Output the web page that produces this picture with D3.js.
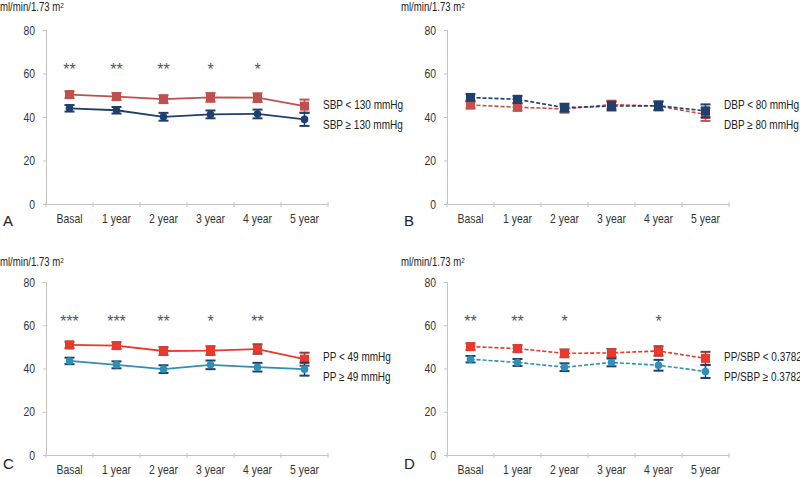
<!DOCTYPE html>
<html>
<head>
<meta charset="utf-8">
<script src="https://cdn.jsdelivr.net/npm/d3@7"></script>
<style>
  body { margin: 0; background: #fff; }
  svg { display: block; font-family: "Liberation Sans", Arial, sans-serif; }
</style>
</head>
<body>
<svg id="chart" width="800" height="477"></svg>
<script>
const categories = ["Basal", "1 year", "2 year", "3 year", "4 year", "5 year"];
const yTicks = [0, 20, 40, 60, 80];

// Panel A
const sbpLow = [50.3, 49.4, 48.2, 49.0, 48.9, 45.0];
const sbpLowErr = [1.5, 1.6, 1.8, 2.0, 2.0, 3.0];
const sbpHigh = [44.0, 43.1, 40.1, 41.2, 41.4, 38.9];
const sbpHighErr = [1.5, 1.5, 1.8, 1.8, 2.0, 3.0];
const sigA = ["**", "**", "**", "*", "*", ""];

// Panel B
const dbpLow = [49.0, 48.1, 44.3, 45.0, 45.2, 42.8];
const dbpLowErr = [1.5, 1.6, 1.8, 2.0, 2.0, 3.0];
const dbpHigh = [45.5, 44.5, 43.7, 45.7, 45.0, 41.2];
const dbpHighErr = [1.5, 1.6, 1.6, 1.8, 2.0, 3.0];

// Panel C
const ppLow = [50.9, 50.6, 48.1, 48.3, 49.0, 44.3];
const ppLowErr = [1.5, 1.6, 1.8, 2.0, 2.2, 3.0];
const ppHigh = [43.5, 41.7, 39.7, 41.7, 40.6, 39.7];
const ppHighErr = [1.5, 1.6, 1.8, 2.0, 2.0, 3.0];
const sigC = ["***", "***", "**", "*", "**", ""];

// Panel D
const ratioLow = [50.1, 49.2, 47.0, 47.2, 48.1, 44.7];
const ratioLowErr = [1.5, 1.6, 1.8, 1.8, 2.2, 3.0];
const ratioHigh = [44.3, 42.8, 40.6, 42.8, 41.5, 38.6];
const ratioHighErr = [1.5, 1.6, 1.8, 1.8, 2.5, 3.0];
const sigD = ["**", "**", "*", "", "*", ""];

const sigY = 62;

const panels = [
  { letter: "A", x0: 46, top: 30, bottom: 204, labelY: 11, letterY: 226, dashed: false,
    sig: sigA,
    series: [
      { name: "SBP < 130 mmHg", values: sbpLow, err: sbpLowErr, color: "#c0504d", cap: "#c0504d", shape: "square" },
      { name: "SBP \u2265 130 mmHg", values: sbpHigh, err: sbpHighErr, color: "#1f3f6e", cap: "#1f3f6e", shape: "circle" },
    ] },
  { letter: "B", x0: 447, top: 30, bottom: 204, labelY: 11, letterY: 226, dashed: true,
    sig: null,
    series: [
      { name: "DBP \u2265 80 mmHg", values: dbpHigh, err: dbpHighErr, color: "#c9504a", cap: "#c9504a", shape: "square", legendRow: 1 },
      { name: "DBP < 80 mmHg", values: dbpLow, err: dbpLowErr, color: "#1f3f6e", cap: "#1f3f6e", shape: "square", legendRow: 0 },
    ] },
  { letter: "C", x0: 46, top: 282, bottom: 455, labelY: 266, letterY: 469, dashed: false,
    sig: sigC,
    series: [
      { name: "PP < 49 mmHg", values: ppLow, err: ppLowErr, color: "#e8392c", cap: "#8a3a3a", shape: "square" },
      { name: "PP \u2265 49 mmHg", values: ppHigh, err: ppHighErr, color: "#2f8fb5", cap: "#1f3f6e", shape: "circle" },
    ] },
  { letter: "D", x0: 447, top: 282, bottom: 455, labelY: 266, letterY: 469, dashed: true,
    sig: sigD,
    series: [
      { name: "PP/SBP < 0.3782", values: ratioLow, err: ratioLowErr, color: "#e8392c", cap: "#8a3a3a", shape: "square" },
      { name: "PP/SBP \u2265 0.3782", values: ratioHigh, err: ratioHighErr, color: "#2f8fb5", cap: "#1f3f6e", shape: "circle" },
    ] },
];

const svg = d3.select("#chart");
const plotW = 282;
const narrow = 0.8; // the original uses a condensed face

panels.forEach((p) => {
  const g = svg.append("g");
  const x = d3.scaleBand().domain(categories).range([p.x0, p.x0 + plotW]);
  const y = d3.scaleLinear().domain([0, 80]).range([p.bottom, p.top]);

  // y axis
  const yAxis = g.append("g")
    .attr("transform", `translate(${p.x0},0)`)
    .call(d3.axisLeft(y).tickValues(yTicks).tickSize(3).tickPadding(8));
  yAxis.select(".domain").attr("stroke", "#c4c4c4");
  yAxis.selectAll(".tick line").attr("stroke", "#c4c4c4");
  yAxis.selectAll("text").attr("class", "squeeze").attr("font-size", "13px").attr("fill", "#333").attr("font-family", null);

  // x axis
  const xAxis = g.append("g")
    .attr("transform", `translate(0,${p.bottom})`)
    .call(d3.axisBottom(x).tickSize(0).tickPadding(10));
  xAxis.select(".domain").attr("stroke", "#c4c4c4");
  xAxis.selectAll("text").attr("class", "squeeze").attr("font-size", "13px").attr("fill", "#333").attr("font-family", null);
  // boundary ticks between categories
  g.selectAll(".btick")
    .data(categories.concat([null]))
    .enter()
    .append("line")
    .attr("x1", (d, i) => p.x0 + i * x.step())
    .attr("x2", (d, i) => p.x0 + i * x.step())
    .attr("y1", p.bottom - 2)
    .attr("y2", p.bottom + 3)
    .attr("stroke", "#c4c4c4");

  // y label (squeezed horizontally from its left edge)
  const lbl = g.append("text")
    .attr("transform", `translate(${p.x0 - 46},${p.labelY}) scale(${narrow},1)`)
    .attr("font-size", "12px")
    .attr("fill", "#222");
  lbl.append("tspan").text("ml/min/1.73 m");
  lbl.append("tspan").attr("dy", -3.5).attr("font-size", "8px").text("2");

  // panel letter
  g.append("text")
    .attr("x", p.x0 - 43)
    .attr("y", p.letterY)
    .attr("font-size", "15px")
    .attr("fill", "#222")
    .text(p.letter);

  const cx = (i) => x(categories[i]) + x.bandwidth() / 2;

  p.series.forEach((s, si) => {
    const pts = s.values.map((v, i) => ({ i, v, e: s.err[i] }));
    const line = d3.line().x((d) => cx(d.i)).y((d) => y(d.v));
    g.append("path")
      .datum(pts)
      .attr("fill", "none")
      .attr("stroke", s.color)
      .attr("stroke-width", p.dashed ? 1.6 : 1.8)
      .attr("stroke-dasharray", p.dashed ? "4,2" : null)
      .attr("d", line);

    // error bars
    const eb = g.append("g");
    eb.selectAll("line.v")
      .data(pts)
      .enter()
      .append("line")
      .attr("x1", (d) => cx(d.i))
      .attr("x2", (d) => cx(d.i))
      .attr("y1", (d) => y(d.v - d.e))
      .attr("y2", (d) => y(d.v + d.e))
      .attr("stroke", s.cap)
      .attr("stroke-width", 1.5);
    ["lo", "hi"].forEach((k) => {
      eb.selectAll("line." + k)
        .data(pts)
        .enter()
        .append("line")
        .attr("x1", (d) => cx(d.i) - 5)
        .attr("x2", (d) => cx(d.i) + 5)
        .attr("y1", (d) => y(k === "lo" ? d.v - d.e : d.v + d.e))
        .attr("y2", (d) => y(k === "lo" ? d.v - d.e : d.v + d.e))
        .attr("stroke", s.cap)
        .attr("stroke-width", 2);
    });

    // markers
    if (s.shape === "square") {
      g.selectAll(null)
        .data(pts)
        .enter()
        .append("rect")
        .attr("x", (d) => cx(d.i) - 4.5)
        .attr("y", (d) => y(d.v) - 4.5)
        .attr("width", 9)
        .attr("height", 9)
        .attr("fill", s.color);
    } else {
      g.selectAll(null)
        .data(pts)
        .enter()
        .append("circle")
        .attr("cx", (d) => cx(d.i))
        .attr("cy", (d) => y(d.v))
        .attr("r", 3.8)
        .attr("fill", s.color);
    }

    // legend
    const row = s.legendRow !== undefined ? s.legendRow : si;
    g.append("text")
      .attr("class", "squeeze")
      .attr("x", p.x0 + 277)
      .attr("y", p.top + 79 + row * 20)
      .attr("font-size", "12.5px")
      .attr("fill", "#222")
      .text(s.name);
  });

  // significance stars
  if (p.sig) {
    g.selectAll(null)
      .data(p.sig)
      .enter()
      .append("text")
      .attr("x", (d, i) => cx(i))
      .attr("y", y(sigY) + 6)
      .attr("text-anchor", "middle")
      .attr("font-size", "16px")
      .attr("fill", "#555")
      .text((d) => d);
  }
});

// condense the plain texts to mimic the narrow face of the original
svg.selectAll("text.squeeze").each(function () {
  const w = this.getComputedTextLength();
  d3.select(this)
    .attr("textLength", w * narrow)
    .attr("lengthAdjust", "spacingAndGlyphs");
});
</script>
</body>
</html>
